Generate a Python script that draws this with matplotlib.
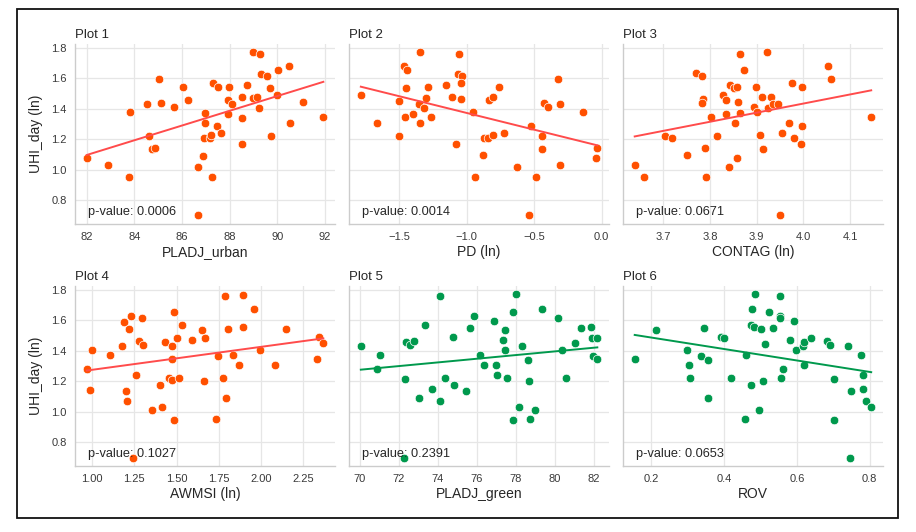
import matplotlib
matplotlib.use("Agg")
import matplotlib.pyplot as plt
from matplotlib.patches import Rectangle
import numpy as np

plt.rcParams["font.family"] = ["Liberation Sans", "DejaVu Sans"]

# --- data, one x/y pair of lists per panel ---
p1_x = [82.0, 82.91, 83.78, 83.82, 84.54, 84.61, 84.75, 84.85, 85.03, 85.13,
        85.66, 86.04, 86.24, 86.69, 86.69, 86.87, 86.94, 86.97, 86.98, 87.16,
        87.22, 87.26, 87.29, 87.47, 87.52, 87.63, 87.94, 87.94, 87.96, 88.08,
        88.53, 88.54, 88.54, 88.74, 89.0, 89.26, 89.0, 89.17, 89.24, 89.33,
        89.58, 89.69, 89.75, 90.0, 90.03, 90.5, 90.53, 91.09, 91.94]
p1_y = [1.076, 1.028, 0.950, 1.375, 1.427, 1.223, 1.136, 1.145, 1.594, 1.436,
        1.410, 1.544, 1.457, 0.702, 1.015, 1.089, 1.210, 1.305, 1.370, 1.206,
        1.225, 0.954, 1.570, 1.284, 1.544, 1.238, 1.366, 1.459, 1.544, 1.429,
        1.340, 1.171, 1.479, 1.557, 1.772, 1.761, 1.470, 1.479, 1.403, 1.629,
        1.616, 1.538, 1.219, 1.490, 1.652, 1.679, 1.305, 1.444, 1.344]

p2_x = [-1.785, -1.666, -1.500, -1.505, -1.463, -1.440, -1.453, -1.455, -1.401, -1.351,
        -1.346, -1.346, -1.314, -1.299, -1.284, -1.267, -1.155, -1.106, -1.083, -1.061,
        -1.056, -1.034, -1.039, -1.041, -0.950, -0.937, -0.880, -0.870, -0.845, -0.838,
        -0.806, -0.806, -0.761, -0.726, -0.627, -0.538, -0.521, -0.483, -0.439, -0.439,
        -0.426, -0.399, -0.327, -0.312, -0.305, -0.136, -0.045, -0.032]
p2_y = [1.490, 1.308, 1.223, 1.449, 1.681, 1.655, 1.538, 1.347, 1.366, 1.429,
        1.772, 1.305, 1.403, 1.470, 1.544, 1.342, 1.557, 1.479, 1.171, 1.629,
        1.761, 1.616, 1.568, 1.462, 1.375, 0.954, 1.093, 1.206, 1.210, 1.457,
        1.479, 1.225, 1.544, 1.238, 1.017, 0.702, 1.284, 0.950, 1.223, 1.136,
        1.438, 1.410, 1.594, 1.429, 1.030, 1.375, 1.076, 1.143]

p3_x = [3.639, 3.658, 3.703, 3.718, 3.751, 3.770, 3.782, 3.785, 3.782, 3.790,
        3.792, 3.803, 3.816, 3.828, 3.835, 3.835, 3.840, 3.843, 3.851, 3.858,
        3.853, 3.858, 3.861, 3.864, 3.865, 3.873, 3.894, 3.899, 3.901, 3.907,
        3.911, 3.914, 3.923, 3.924, 3.930, 3.935, 3.945, 3.949, 3.955, 3.969,
        3.975, 3.980, 3.996, 3.995, 3.998, 4.052, 4.058, 4.145]
p3_y = [1.028, 0.950, 1.223, 1.206, 1.093, 1.631, 1.616, 1.464, 1.438, 1.145,
        0.954, 1.342, 1.221, 1.490, 1.459, 1.366, 1.015, 1.557, 1.535, 1.544,
        1.305, 1.076, 1.446, 1.761, 1.373, 1.655, 1.410, 1.544, 1.375, 1.225,
        1.479, 1.136, 1.772, 1.405, 1.479, 1.427, 1.429, 0.702, 1.238, 1.305,
        1.568, 1.210, 1.284, 1.171, 1.544, 1.681, 1.594, 1.344]

p4_x = [0.970, 0.986, 0.998, 1.109, 1.180, 1.189, 1.203, 1.207, 1.217, 1.233,
        1.245, 1.258, 1.276, 1.294, 1.302, 1.357, 1.403, 1.414, 1.432, 1.458,
        1.474, 1.476, 1.476, 1.484, 1.484, 1.503, 1.517, 1.531, 1.592, 1.653,
        1.663, 1.669, 1.734, 1.748, 1.776, 1.785, 1.793, 1.805, 1.833, 1.870,
        1.892, 1.896, 1.957, 1.993, 2.082, 2.149, 2.328, 2.342, 2.368]
p4_y = [1.280, 1.143, 1.404, 1.370, 1.428, 1.591, 1.135, 1.070, 1.543, 1.628,
        0.698, 1.239, 1.461, 1.613, 1.435, 1.013, 1.172, 1.028, 1.457, 1.224,
        1.430, 1.343, 1.209, 1.652, 0.946, 1.483, 1.222, 1.567, 1.467, 1.537,
        1.204, 1.483, 0.952, 1.365, 1.220, 1.759, 1.091, 1.543, 1.370, 1.304,
        1.554, 1.767, 1.676, 1.402, 1.307, 1.543, 1.343, 1.487, 1.448]

p5_x = [70.05, 70.88, 71.01, 72.27, 72.32, 72.36, 72.58, 72.79, 73.03, 73.34,
        73.71, 74.09, 74.14, 74.39, 74.76, 74.82, 75.45, 75.66, 75.88, 76.19,
        76.36, 76.90, 76.98, 77.02, 77.34, 77.45, 77.46, 77.57, 77.88, 77.86,
        78.00, 78.19, 78.34, 78.65, 78.67, 78.75, 78.99, 79.34, 80.15, 80.39,
        80.56, 81.04, 81.37, 81.87, 81.92, 82.18, 81.95, 82.19]
p5_y = [1.430, 1.280, 1.372, 0.698, 1.213, 1.459, 1.435, 1.461, 1.093, 1.570,
        1.146, 1.072, 1.761, 1.224, 1.489, 1.172, 1.135, 1.546, 1.630, 1.372,
        1.307, 1.593, 1.307, 1.239, 1.467, 1.537, 1.404, 1.224, 0.946, 1.652,
        1.770, 1.030, 1.428, 1.341, 1.204, 0.952, 1.013, 1.676, 1.615, 1.402,
        1.222, 1.448, 1.546, 1.554, 1.480, 1.480, 1.367, 1.343]

p6_x = [0.155, 0.213, 0.299, 0.303, 0.307, 0.337, 0.345, 0.356, 0.356, 0.392,
        0.400, 0.419, 0.458, 0.460, 0.473, 0.473, 0.477, 0.483, 0.484, 0.495,
        0.501, 0.506, 0.512, 0.524, 0.535, 0.553, 0.553, 0.555, 0.557, 0.561,
        0.581, 0.591, 0.599, 0.616, 0.619, 0.620, 0.638, 0.682, 0.690, 0.703,
        0.703, 0.740, 0.745, 0.748, 0.777, 0.782, 0.782, 0.791, 0.804]
p6_y = [1.343, 1.537, 1.402, 1.307, 1.222, 1.367, 1.546, 1.341, 1.091, 1.489,
        1.480, 1.220, 0.952, 1.372, 1.172, 1.570, 1.676, 1.554, 1.770, 1.013,
        1.543, 1.204, 1.446, 1.652, 1.546, 1.759, 1.630, 1.615, 1.222, 1.280,
        1.467, 1.593, 1.404, 1.430, 1.307, 1.459, 1.483, 1.461, 1.435, 1.213,
        0.946, 1.430, 0.698, 1.135, 1.372, 1.239, 1.146, 1.072, 1.028]

xlabels = ["PLADJ_urban", "PD (ln)", "CONTAG (ln)", "AWMSI (ln)", "PLADJ_green", "ROV"]
p_values = ["0.0006", "0.0014", "0.0671", "0.1027", "0.2391", "0.0653"]
xs = [p1_x, p2_x, p3_x, p4_x, p5_x, p6_x]
ys = [p1_y, p2_y, p3_y, p4_y, p5_y, p6_y]

ORANGE = "#ff5000"
GREEN = "#00994d"
point_colors = [ORANGE] * 4 + [GREEN] * 2
line_colors = ["#ff4b4b"] * 4 + [GREEN] * 2

fig = plt.figure(figsize=(9.16, 5.32), dpi=100)

# outer frame around the whole picture
fig.patches.append(Rectangle((0.0186, 0.0263), 0.962, 0.957, transform=fig.transFigure,
                             fill=False, edgecolor="#111111", linewidth=1.3))

lefts = [0.0819, 0.381, 0.680]
bottoms = [0.579, 0.124]
w, h = 0.284, 0.339

axes = []
for i in range(6):
    r, c = divmod(i, 3)
    share = axes[0] if axes else None
    ax = fig.add_axes([lefts[c], bottoms[r], w, h], sharey=share)
    axes.append(ax)

for i, ax in enumerate(axes):
    x = np.array(xs[i])
    y = np.array(ys[i])
    ax.set_facecolor("white")
    ax.grid(True, color="#e6e6e6", linewidth=0.9)
    ax.set_axisbelow(True)
    ax.scatter(x, y, s=38, color=point_colors[i], edgecolor="white", linewidth=0.5, zorder=3)
    k, b = np.polyfit(x, y, 1)
    xx = np.array([x.min(), x.max()])
    ax.plot(xx, k * xx + b, color=line_colors[i], linewidth=1.4, zorder=4)
    ax.margins(x=0.05, y=0.05)
    for side in ["top", "right"]:
        ax.spines[side].set_visible(False)
    for side in ["left", "bottom"]:
        ax.spines[side].set_color("#cccccc")
        ax.spines[side].set_linewidth(1.0)
    ax.tick_params(length=0, labelsize=8, labelcolor="#3a3a3a", pad=6)
    ax.set_title(f"Plot {i + 1}", loc="left", fontsize=9.5, color="#262626", pad=4)
    ax.set_xlabel(xlabels[i], fontsize=10, color="#262626", labelpad=2)
    ax.text(0.05, 0.035, f"p-value: {p_values[i]}", transform=ax.transAxes,
            fontsize=9.2, color="#262626", va="bottom", ha="left", zorder=5)
    if i % 3 == 0:
        ax.set_ylabel("UHI_day (ln)", fontsize=10, color="#262626", labelpad=6)
    else:
        ax.tick_params(labelleft=False)

axes[0].set_yticks([0.8, 1.0, 1.2, 1.4, 1.6, 1.8])
axes[0].set_xticks([82, 84, 86, 88, 90, 92])
axes[1].set_xticks([-1.5, -1.0, -0.5, 0.0])
axes[2].set_xticks([3.7, 3.8, 3.9, 4.0, 4.1])
axes[3].set_xticks([1.0, 1.25, 1.5, 1.75, 2.0, 2.25])
axes[4].set_xticks([70, 72, 74, 76, 78, 80, 82])
axes[5].set_xticks([0.2, 0.4, 0.6, 0.8])

fig.savefig("out.png", dpi=100, facecolor="white")
